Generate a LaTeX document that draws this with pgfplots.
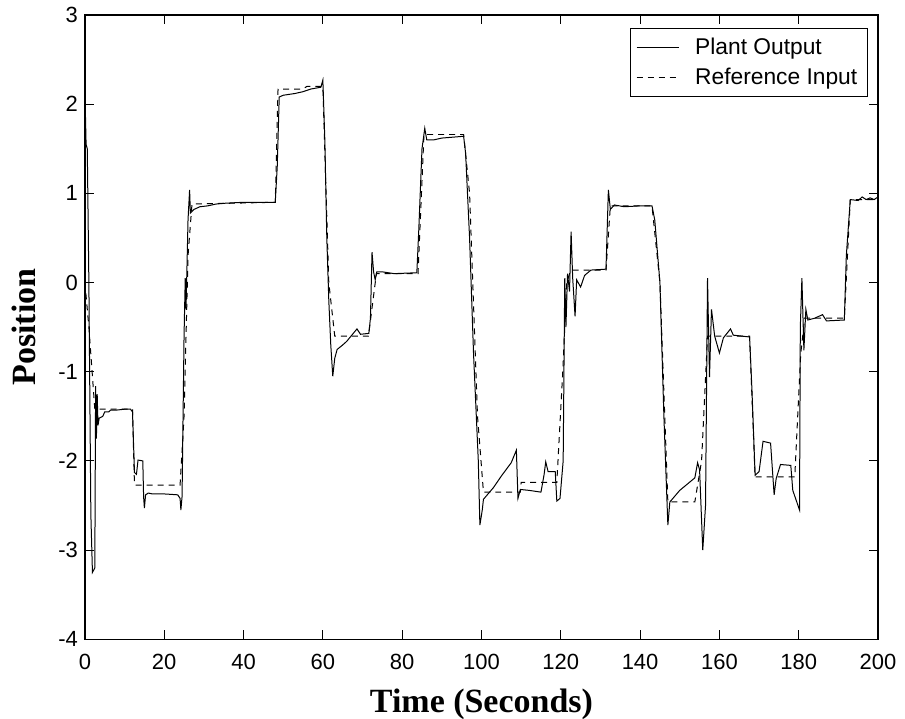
\documentclass[border=0pt]{standalone}
\usepackage{fontspec}
\setmainfont{Liberation Serif}
\setsansfont{Liberation Sans}
\usepackage{pgfplots}
\pgfplotsset{compat=1.18}
\begin{document}
\begin{tikzpicture}
\begin{axis}[
  name=ax,
  scale only axis,
  width=397pt, height=312.5pt,
  xmin=0, xmax=200, ymin=-4, ymax=3,
  xtick={0,20,...,200}, ytick={-4,-3,...,3},
  tick align=inside,
  major tick length=4.5pt,
  tick style={black, line width=0.5pt},
  axis line style={line width=0.8pt},
  /pgf/number format/assume math mode=true,
  ticklabel style={font=\sffamily\fontsize{11}{13}\selectfont},
  xticklabel style={yshift=-4pt},
  xlabel={Time (Seconds)},
  ylabel={Position},
  label style={font=\rmfamily\bfseries\fontsize{17}{20}\selectfont},
  xlabel style={at={(axis description cs:0.5,-0.068)}, anchor=north},
  ylabel style={at={(axis description cs:-0.077,0.5)}, anchor=center, rotate=0},
  legend style={at={(0.987,0.979)}, anchor=north east, draw=black, line width=0.5pt,
    font=\sffamily\fontsize{11.4}{13}\selectfont, cells={anchor=west},
    inner xsep=3pt, inner ysep=2.5pt, row sep=1.5pt,
    /tikz/every odd column/.append style={column sep=6pt}},
  legend image code/.code={\draw[#1] (0pt,0pt) -- (21pt,0pt);},
  legend image post style={line width=0.5pt},
]
\addplot[black, line width=0.5pt] coordinates {
(0,2.15) (0.3,1.55) (0.6,1.5) (1.0,0.0) (1.5,-2.6) (1.9,-3.25) (2.5,-3.2) (2.7,-1.16)
(2.9,-1.75) (3.1,-1.25) (3.3,-1.6) (3.6,-1.52) (4.5,-1.50) (5.0,-1.45) (6.0,-1.45)
(6.5,-1.43) (8.0,-1.43) (10.0,-1.42) (11.5,-1.42) (12.0,-1.45) (12.5,-2.13) (13.0,-2.15)
(13.4,-1.99) (14.6,-2.0) (14.8,-2.40) (15.0,-2.53) (15.3,-2.38) (16,-2.36) (17,-2.37)
(20,-2.37) (23.4,-2.38) (24.0,-2.42) (24.2,-2.55) (24.5,-2.4) (25.0,-0.6) (25.3,0.05)
(25.5,-0.3) (26.0,0.7) (26.4,1.04) (26.6,0.78) (27.5,0.82) (29,0.85) (31,0.86) (33,0.88)
(35.6,0.89) (40,0.90) (48,0.90) (48.5,1.3) (49,2.08) (50,2.1) (53,2.12) (55,2.14)
(57,2.17) (59.5,2.19) (60,2.27) (60.5,1.6) (61,0.5) (61.5,-0.2) (62,-0.7) (62.5,-1.05)
(63,-0.85) (63.6,-0.75) (65,-0.70) (66,-0.66) (68.6,-0.52) (69.5,-0.58) (71.6,-0.57)
(72.0,-0.4) (72.4,0.34) (72.8,0.12) (73.2,0.03) (73.6,0.12) (75,0.12) (78,0.10)
(83.7,0.11) (84.2,0.6) (85.0,1.5) (85.7,1.73) (86.2,1.60) (88,1.60) (90,1.62) (95.5,1.64)
(96,1.45) (97,0.5) (98,-0.8) (99.2,-2.0) (99.6,-2.72) (100.2,-2.55) (100.5,-2.43)
(103,-2.30) (105,-2.17) (107.5,-2.02) (108.8,-1.88) (109.2,-2.42) (109.8,-2.32)
(112,-2.33) (115,-2.35) (115.8,-2.15) (116.2,-2.01) (116.8,-2.12) (118.6,-2.12)
(119.0,-2.45) (119.8,-2.42) (120.6,-2.0) (121,0.05) (121.3,-0.5) (121.7,0.1) (122.2,-0.1)
(122.6,0.57) (123.0,0.05) (123.6,-0.38) (124,0.03) (125,-0.05) (126,0.08) (127.6,0.14)
(131.4,0.15) (132,1.04) (132.5,0.82) (133.5,0.87) (136,0.85) (140,0.86) (143,0.86)
(143.7,0.7) (145,0) (146,-1.5) (147,-2.72) (147.5,-2.46) (150,-2.33) (153.8,-2.19)
(154.5,-2.02) (155.0,-2.1) (155.8,-3.0) (156.5,-2.5) (157,0.05) (157.5,-1.06) (158,-0.3)
(158.8,-0.6) (160,-0.79) (161,-0.62) (162.8,-0.52) (163.5,-0.59) (167.6,-0.61)
(168.2,-1.2) (169,-2.16) (170,-2.12) (171,-1.78) (172.9,-1.8) (173.8,-2.38) (174.3,-2.2)
(175.4,-2.04) (178,-2.05) (178.5,-2.33) (180.2,-2.55) (180.4,-0.5) (180.8,0.05)
(181.3,-0.76) (181.8,-0.3) (182.3,-0.42) (184,-0.4) (186,-0.36) (187,-0.43) (191.5,-0.42)
(192,0.3) (193,0.93) (195,0.92) (196,0.96) (197,0.93) (198,0.95) (199,0.93) (200,0.96)
};
\addlegendentry{Plant Output}
\addplot[black, line width=0.5pt, dash pattern=on 3pt off 2.5pt] coordinates {
(0,0) (1,-0.5) (2.5,-1.42) (12,-1.42) (12.5,-2.27) (24,-2.27) (25,-1.5) (26,0.3) (27,0.88)
(48,0.9) (48.7,2.17) (55,2.17) (56,2.2) (60,2.2) (61.5,0) (63,-0.6) (71.5,-0.6) (73.5,0.1)
(84,0.1) (85.5,1.66) (95.5,1.66) (97,1.0) (99,-1.5) (100.5,-2.35) (109.8,-2.35) (110,-2.24)
(119,-2.24) (120.5,-1.0) (121.5,0.0) (122.5,0.14) (131.4,0.14) (132.5,0.86) (143,0.86)
(145,0) (147,-2.46) (153.8,-2.46) (155.5,-2.0) (157,-0.6) (167.6,-0.6) (169,-2.18)
(179,-2.18) (180.5,-0.8) (181.5,-0.4) (191.5,-0.4) (193,0.93) (200,0.93)
};
\addlegendentry{Reference Input}
\end{axis}
\pgfresetboundingbox
\path[use as bounding box] ([shift={(-42.5pt,-39.5pt)}]ax.south west) rectangle ([shift={(13.5pt,7.5pt)}]ax.north east);
\end{tikzpicture}
\end{document}
